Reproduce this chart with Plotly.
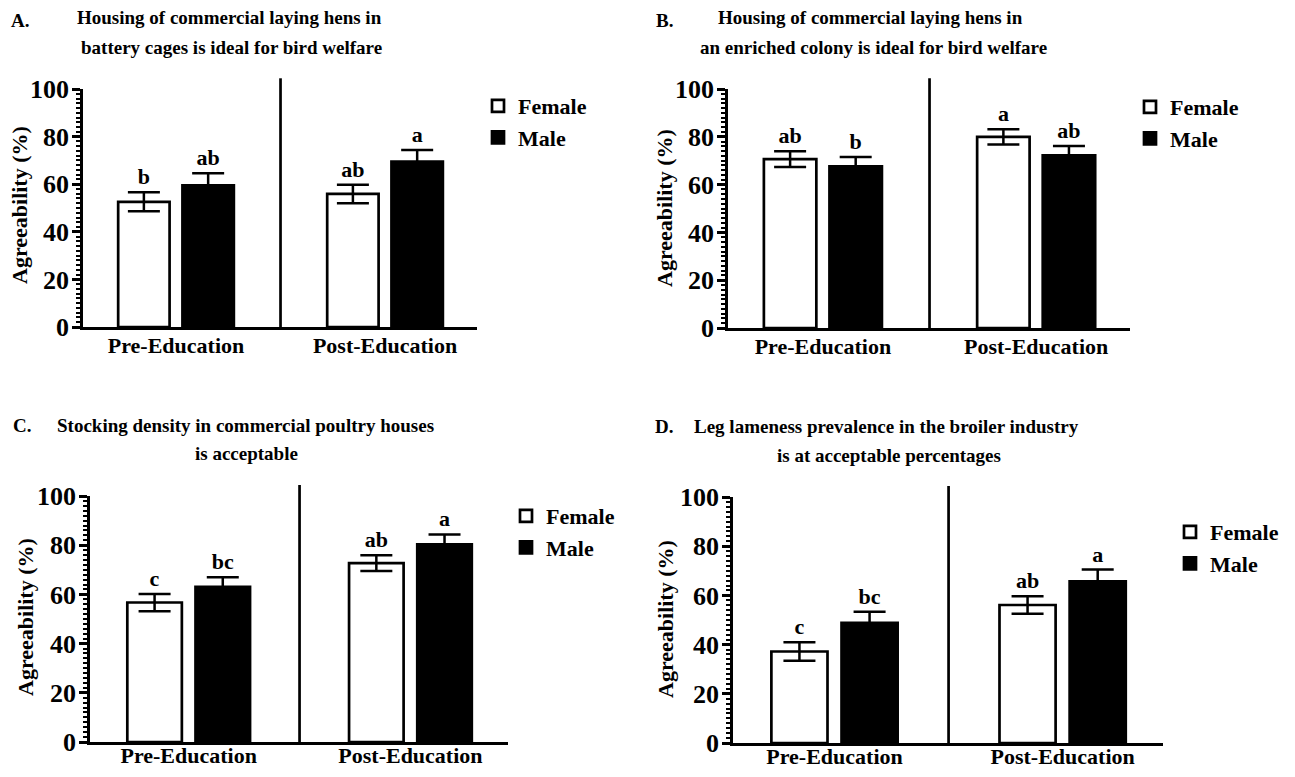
import plotly.graph_objects as go

# the page body keeps its default 8px margin, so the figure is sized to fit inside it
OFF = 8
W, H = 1295 - 2 * OFF, 777 - 2 * OFF

categories = ["Pre-Education", "Post-Education"]
series_names = ["Female", "Male"]

# Panel A
a_female = [52.6, 55.9]
a_female_err = [4.0, 3.9]
a_male = [59.5, 69.5]
a_male_err = [5.1, 4.9]
a_female_letters = ["b", "ab"]
a_male_letters = ["ab", "a"]

# Panel B
b_female = [70.7, 80.0]
b_female_err = [3.3, 3.2]
b_male = [67.6, 72.2]
b_male_err = [3.9, 4.0]
b_female_letters = ["ab", "a"]
b_male_letters = ["b", "ab"]

# Panel C
c_female = [56.7, 72.7]
c_female_err = [3.5, 3.2]
c_male = [63.1, 80.3]
c_male_err = [3.9, 4.1]
c_female_letters = ["c", "ab"]
c_male_letters = ["bc", "a"]

# Panel D
d_female = [37.2, 56.1]
d_female_err = [3.8, 3.6]
d_male = [48.8, 65.7]
d_male_err = [4.6, 4.8]
d_female_letters = ["c", "ab"]
d_male_letters = ["bc", "a"]

panel_labels = ["A.", "B.", "C.", "D."]
title_lines = [
    ["Housing of commercial laying hens in", "battery cages is ideal for bird welfare"],
    ["Housing of commercial laying hens in", "an enriched colony is ideal for bird welfare"],
    ["Stocking density in commercial poultry houses", "is acceptable"],
    ["Leg lameness prevalence in the broiler industry", "is at acceptable percentages"],
]
y_title = "Agreeability (%)"
y_ticks = [0, 20, 40, 60, 80, 100]

FONT = "Liberation Serif"


def px(x):
    return (x - OFF) / W


def py(y):
    return 1 - (y - OFF) / H


# layout geometry (screen pixels): x-left, x-right, y-top(100), y-bottom(0)
geom = [
    (83, 477, 89, 327),
    (728, 1130, 89, 328),
    (90, 508, 496, 742),
    (733, 1163, 497, 743),
]
xlabel_standoff = [-3, -3, -8, -8]
legend_pos = [(478, 85), (1130, 86), (506, 495), (1170, 511)]
label_pos = [(20, 21), (664, 21), (22, 425), (664, 427)]
title_pos = [((229, 18), (231, 47)), ((870, 18), (873, 47)),
             ((245, 425), (247, 453)), ((886, 427), (889, 455))]
ytitle_pos = [(20, 205), (665, 208), (25, 617), (665, 619)]

panels = [
    (a_female, a_female_err, a_male, a_male_err, a_female_letters, a_male_letters),
    (b_female, b_female_err, b_male, b_male_err, b_female_letters, b_male_letters),
    (c_female, c_female_err, c_male, c_male_err, c_female_letters, c_male_letters),
    (d_female, d_female_err, d_male, d_male_err, d_female_letters, d_male_letters),
]

fig = go.Figure()
layout = dict(
    width=W, height=H,
    margin=dict(l=0, r=0, t=0, b=0, autoexpand=False),
    paper_bgcolor="white", plot_bgcolor="white",
    barmode="group", bargap=0.385, bargroupgap=0.2,
    font=dict(family=FONT, color="black"),
    annotations=[], shapes=[],
)

for i, (fv, fe, mv, me, fl, ml) in enumerate(panels):
    n = "" if i == 0 else str(i + 1)
    xa, ya = "x" + n, "y" + n
    leg = "legend" + n
    x0, x1, yt, yb = geom[i]
    fig.add_trace(go.Bar(
        x=categories, y=fv, name=series_names[0], xaxis=xa, yaxis=ya,
        offsetgroup="F", legend=leg,
        marker=dict(color="white", line=dict(color="black", width=2.7)),
        error_y=dict(type="data", array=fe, visible=True, color="black",
                     thickness=2.5, width=16),
    ))
    fig.add_trace(go.Bar(
        x=categories, y=mv, name=series_names[1], xaxis=xa, yaxis=ya,
        offsetgroup="M", legend=leg,
        marker=dict(color="black", line=dict(color="black", width=2.7)),
        error_y=dict(type="data", array=me, visible=True, color="black",
                     thickness=2.5, width=16),
    ))
    # invisible bars carrying the significance letters above error bars
    for vals, errs, letters, grp in ((fv, fe, fl, "F"), (mv, me, ml, "M")):
        fig.add_trace(go.Bar(
            x=categories, y=[v + e for v, e in zip(vals, errs)],
            xaxis=xa, yaxis=ya, offsetgroup=grp, showlegend=False,
            marker=dict(color="rgba(0,0,0,0)", line=dict(width=0)),
            text=letters, textposition="outside", cliponaxis=False,
            constraintext="none", hoverinfo="skip",
            textfont=dict(family=FONT, size=22, color="black", weight="bold"),
        ))

    axkey = "xaxis" + n
    aykey = "yaxis" + n
    layout[axkey] = dict(
        domain=[px(x0), px(x1)], anchor=ya, type="category", automargin=False,
        range=[-0.445, 1.44], showline=True, linecolor="black", linewidth=2.7,
        ticks="", showgrid=False, zeroline=False,
        ticklabelstandoff=xlabel_standoff[i],
        tickfont=dict(family=FONT, size=22, color="black", weight="bold"),
    )
    layout[aykey] = dict(
        domain=[py(yb), py(yt)], anchor=xa, range=[0, 100], automargin=False,
        tickvals=y_ticks, showline=True, linecolor="black", linewidth=2.7,
        ticks="outside", ticklen=8, tickwidth=2.5, tickcolor="black",
        showgrid=False, zeroline=False, ticklabelstandoff=-2,
        tickfont=dict(family=FONT, size=26, color="black", weight="bold"),
        minor=dict(dtick=2, ticks="outside", ticklen=4, tickwidth=1.5,
                   tickcolor="black", showgrid=False),
    )
    lx, ly = legend_pos[i]
    layout[leg] = dict(
        x=px(lx), y=py(ly), xanchor="left", yanchor="top",
        bgcolor="rgba(0,0,0,0)", traceorder="normal",
        font=dict(family=FONT, size=22, color="black", weight="bold"),
    )
    # divider between pre and post
    layout["shapes"].append(dict(
        type="line", xref=xa, yref=ya + " domain", x0=0.5, x1=0.5, y0=0, y1=1.045,
        line=dict(color="black", width=2.7), layer="above",
    ))
    # titles
    lbx, lby = label_pos[i]
    layout["annotations"].append(dict(
        text=panel_labels[i], xref="paper", yref="paper", x=px(lbx), y=py(lby),
        showarrow=False, xanchor="center", yanchor="middle",
        font=dict(family=FONT, size=19, color="black", weight="bold"),
    ))
    for (tx, ty), line in zip(title_pos[i], title_lines[i]):
        layout["annotations"].append(dict(
            text=line, xref="paper", yref="paper", x=px(tx), y=py(ty),
            showarrow=False, xanchor="center", yanchor="middle",
            font=dict(family=FONT, size=19, color="black", weight="bold"),
        ))
    yx, yy = ytitle_pos[i]
    layout["annotations"].append(dict(
        text=y_title, xref="paper", yref="paper", x=px(yx), y=py(yy),
        showarrow=False, xanchor="center", yanchor="middle", textangle=-90,
        font=dict(family=FONT, size=22, color="black", weight="bold"),
    ))

fig.update_layout(**layout)
fig.write_html("out.html")
